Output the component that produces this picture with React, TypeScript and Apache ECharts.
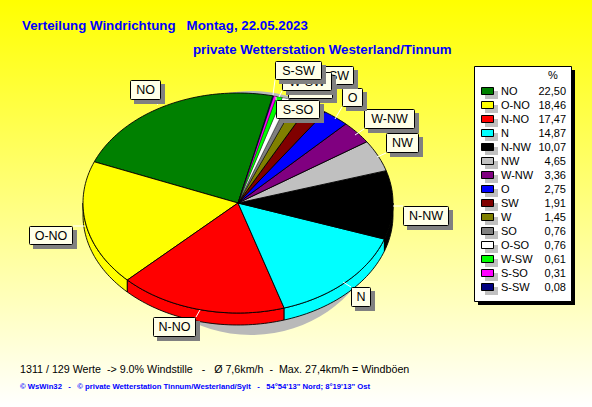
import React, { useEffect, useRef } from "react";
import * as echarts from "echarts";

const directions = ["NO", "O-NO", "N-NO", "N", "N-NW", "NW", "W-NW", "O", "SW", "W", "SO", "O-SO", "W-SW", "S-SO", "S-SW"];
const shares = [22.5, 18.46, 17.47, 14.87, 10.07, 4.65, 3.36, 2.75, 1.91, 1.45, 0.76, 0.76, 0.61, 0.31, 0.08];
const colors = ["#008000", "#ffff00", "#ff0000", "#00ffff", "#000000", "#c0c0c0", "#800080", "#0000ff", "#800000", "#808000", "#808080", "#ffffff", "#00ff00", "#ff00ff", "#000080"];

// label box: x0, y0, x1, y1, leader from -> to
const labelBoxes: Record<string, number[]> = {
  NO: [130, 80, 161, 100, 161, 100, 157, 105],
  "O-NO": [29, 226, 73, 245, 73, 226, 85, 226],
  "N-NO": [153, 317, 196, 337, 196, 317, 200, 310],
  N: [351, 287, 371, 307, 351, 287, 343, 282],
  "N-NW": [403, 206, 449, 226, 403, 206, 393, 206],
  NW: [386, 133, 419, 153, 386, 153, 377, 157],
  "W-NW": [364, 109, 415, 129, 364, 129, 355, 135],
  O: [342, 88, 363, 107, 342, 107, 335, 119],
  SW: [324, 66, 354, 85, 324, 85, 322, 88],
  W: [306, 73, 330, 90, 306, 90, 304, 95],
  SO: [296, 77, 326, 96, 296, 96, 292, 100],
  "O-SO": [288, 80, 333, 99, 288, 99, 285, 102],
  "W-SW": [282, 72, 332, 91, 282, 91, 279, 97],
  "S-SO": [276, 100, 320, 119, 276, 100, 276, 97],
  "S-SW": [275, 61, 322, 80, 275, 80, 273, 95],
};

const CX = 238, CY = 203, RX = 155, RY = 110, DEPTH = 12, START = 77;
const SANS = "'Liberation Sans', Arial, sans-serif";

const pt = (deg: number, dy = 0): number[] => {
  const r = (deg * Math.PI) / 180;
  return [CX + RX * Math.cos(r), CY - RY * Math.sin(r) + dy];
};
const arc = (a: number, b: number, dy = 0): number[][] => {
  const n = Math.max(2, Math.ceil((b - a) / 1.5));
  const out: number[][] = [];
  for (let i = 0; i <= n; i++) out.push(pt(a + ((b - a) * i) / n, dy));
  return out;
};

const total = shares.reduce((s, v) => s + v, 0);

export default function App() {
  const ref = useRef<HTMLDivElement>(null);
  useEffect(() => {
    document.body.style.margin = "0";
    const chart = echarts.init(ref.current!, undefined, { renderer: "svg" });

    const renderItem = (params: any, api: any) => {
      const i = params.dataIndex;
      const before = shares.slice(0, i).reduce((s, v) => s + v, 0);
      const a = START + (before / total) * 360;
      const b = a + (api.value(1) / total) * 360;
      const style = { fill: colors[i], stroke: "#000", lineWidth: api.value(1) < 1 ? 0.4 : 0.9 };
      const children: any[] = [];
      const lo = Math.max(a, 180), hi = Math.min(b, 360);
      if (hi > lo) {
        children.push({
          type: "polygon",
          shape: { points: [...arc(lo, hi), ...arc(lo, hi, DEPTH).reverse()] },
          style,
        });
      }
      children.push({
        type: "polygon",
        shape: { points: [[CX, CY], ...arc(a, b)] },
        style,
      });
      return { type: "group", children };
    };

    const graphics: any[] = [
      {
        type: "ellipse", z: 0,
        shape: { cx: 251, cy: 213, rx: 130, ry: 122 },
        style: { fill: "#b9b9b9" },
      },
      ...[
        ["Verteilung Windrichtung   Montag, 22.05.2023", 22, 25],
        ["private Wetterstation Westerland/Tinnum", 193, 49],
      ].map(([text, x, y]) => ({
        type: "text", z: 20, x, y,
        style: { text, fill: "#0000ff", font: `bold 13.3px ${SANS}`, textVerticalAlign: "middle" },
      })),
      {
        type: "text", z: 20, x: 20, y: 369,
        style: { text: "1311 / 129 Werte  -> 9.0% Windstille   -   Ø 7,6km/h  -  Max. 27,4km/h = Windböen", fill: "#000", font: `10.7px ${SANS}`, textVerticalAlign: "middle" },
      },
      {
        type: "text", z: 20, x: 20, y: 386,
        style: { text: "© WsWin32   -   © private Wetterstation Tinnum/Westerland/Sylt   -   54°54'13\" Nord; 8°19'13\" Ost", fill: "#0000ff", font: `bold 7.7px ${SANS}`, textVerticalAlign: "middle" },
      },
      // legend
      { type: "rect", z: 20, shape: { x: 478, y: 70, width: 97, height: 235 }, style: { fill: "#000" } },
      { type: "rect", z: 21, shape: { x: 474.5, y: 66.5, width: 97, height: 235 }, style: { fill: "#fff", stroke: "#000", lineWidth: 1 } },
      {
        type: "text", z: 22, x: 553, y: 75,
        style: { text: "%", fill: "#000", font: `11px ${SANS}`, textAlign: "center", textVerticalAlign: "middle" },
      },
    ];

    directions.forEach((name, i) => {
      const y = 91 + i * 14;
      graphics.push(
        { type: "rect", z: 22, shape: { x: 485, y: y - 0, width: 13, height: 8 }, style: { fill: "#c0c0c0" } },
        { type: "rect", z: 23, shape: { x: 481.5, y: y - 3.5, width: 12, height: 7 }, style: { fill: colors[i], stroke: "#000", lineWidth: 1 } },
        { type: "text", z: 23, x: 501, y, style: { text: name, fill: "#000", font: `11px ${SANS}`, textVerticalAlign: "middle" } },
        { type: "text", z: 23, x: 566, y, style: { text: shares[i].toFixed(2).replace(".", ","), fill: "#000", font: `11px ${SANS}`, textAlign: "right", textVerticalAlign: "middle" } },
      );
      const [x0, y0, x1, y1, lx0, ly0, lx1, ly1] = labelBoxes[name];
      const z = 30 + i * 3;
      graphics.push(
        { type: "line", z: 15, shape: { x1: lx0, y1: ly0, x2: lx1, y2: ly1 }, style: { stroke: "#fff", lineWidth: 1 } },
        { type: "rect", z, shape: { x: x0 + 4, y: y0 + 4, width: x1 - x0, height: y1 - y0 }, style: { fill: "#808080" } },
        { type: "rect", z: z + 1, shape: { x: x0 + 0.5, y: y0 + 0.5, width: x1 - x0 - 1, height: y1 - y0 - 1, r: 1 }, style: { fill: "#ffffe8", stroke: "#000", lineWidth: 1 } },
        { type: "text", z: z + 2, x: (x0 + x1) / 2, y: (y0 + y1) / 2, style: { text: name, fill: "#000", font: `12.5px ${SANS}`, textAlign: "center", textVerticalAlign: "middle" } },
      );
    });

    chart.setOption({
      animation: false,
      backgroundColor: {
        type: "linear", x: 0, y: 0, x2: 0, y2: 1,
        colorStops: [
          { offset: 0, color: "#ffff00" },
          { offset: 1, color: "#ffffff" },
        ],
      },
      graphic: { elements: graphics },
      series: [
        {
          type: "custom",
          coordinateSystem: "none",
          z: 5,
          silent: true,
          renderItem,
          data: directions.map((name, i) => ({ name, value: [i, shares[i]] })),
        },
      ],
    });
    return () => chart.dispose();
  }, []);
  return <div ref={ref} style={{ width: 592, height: 407 }} />;
}
